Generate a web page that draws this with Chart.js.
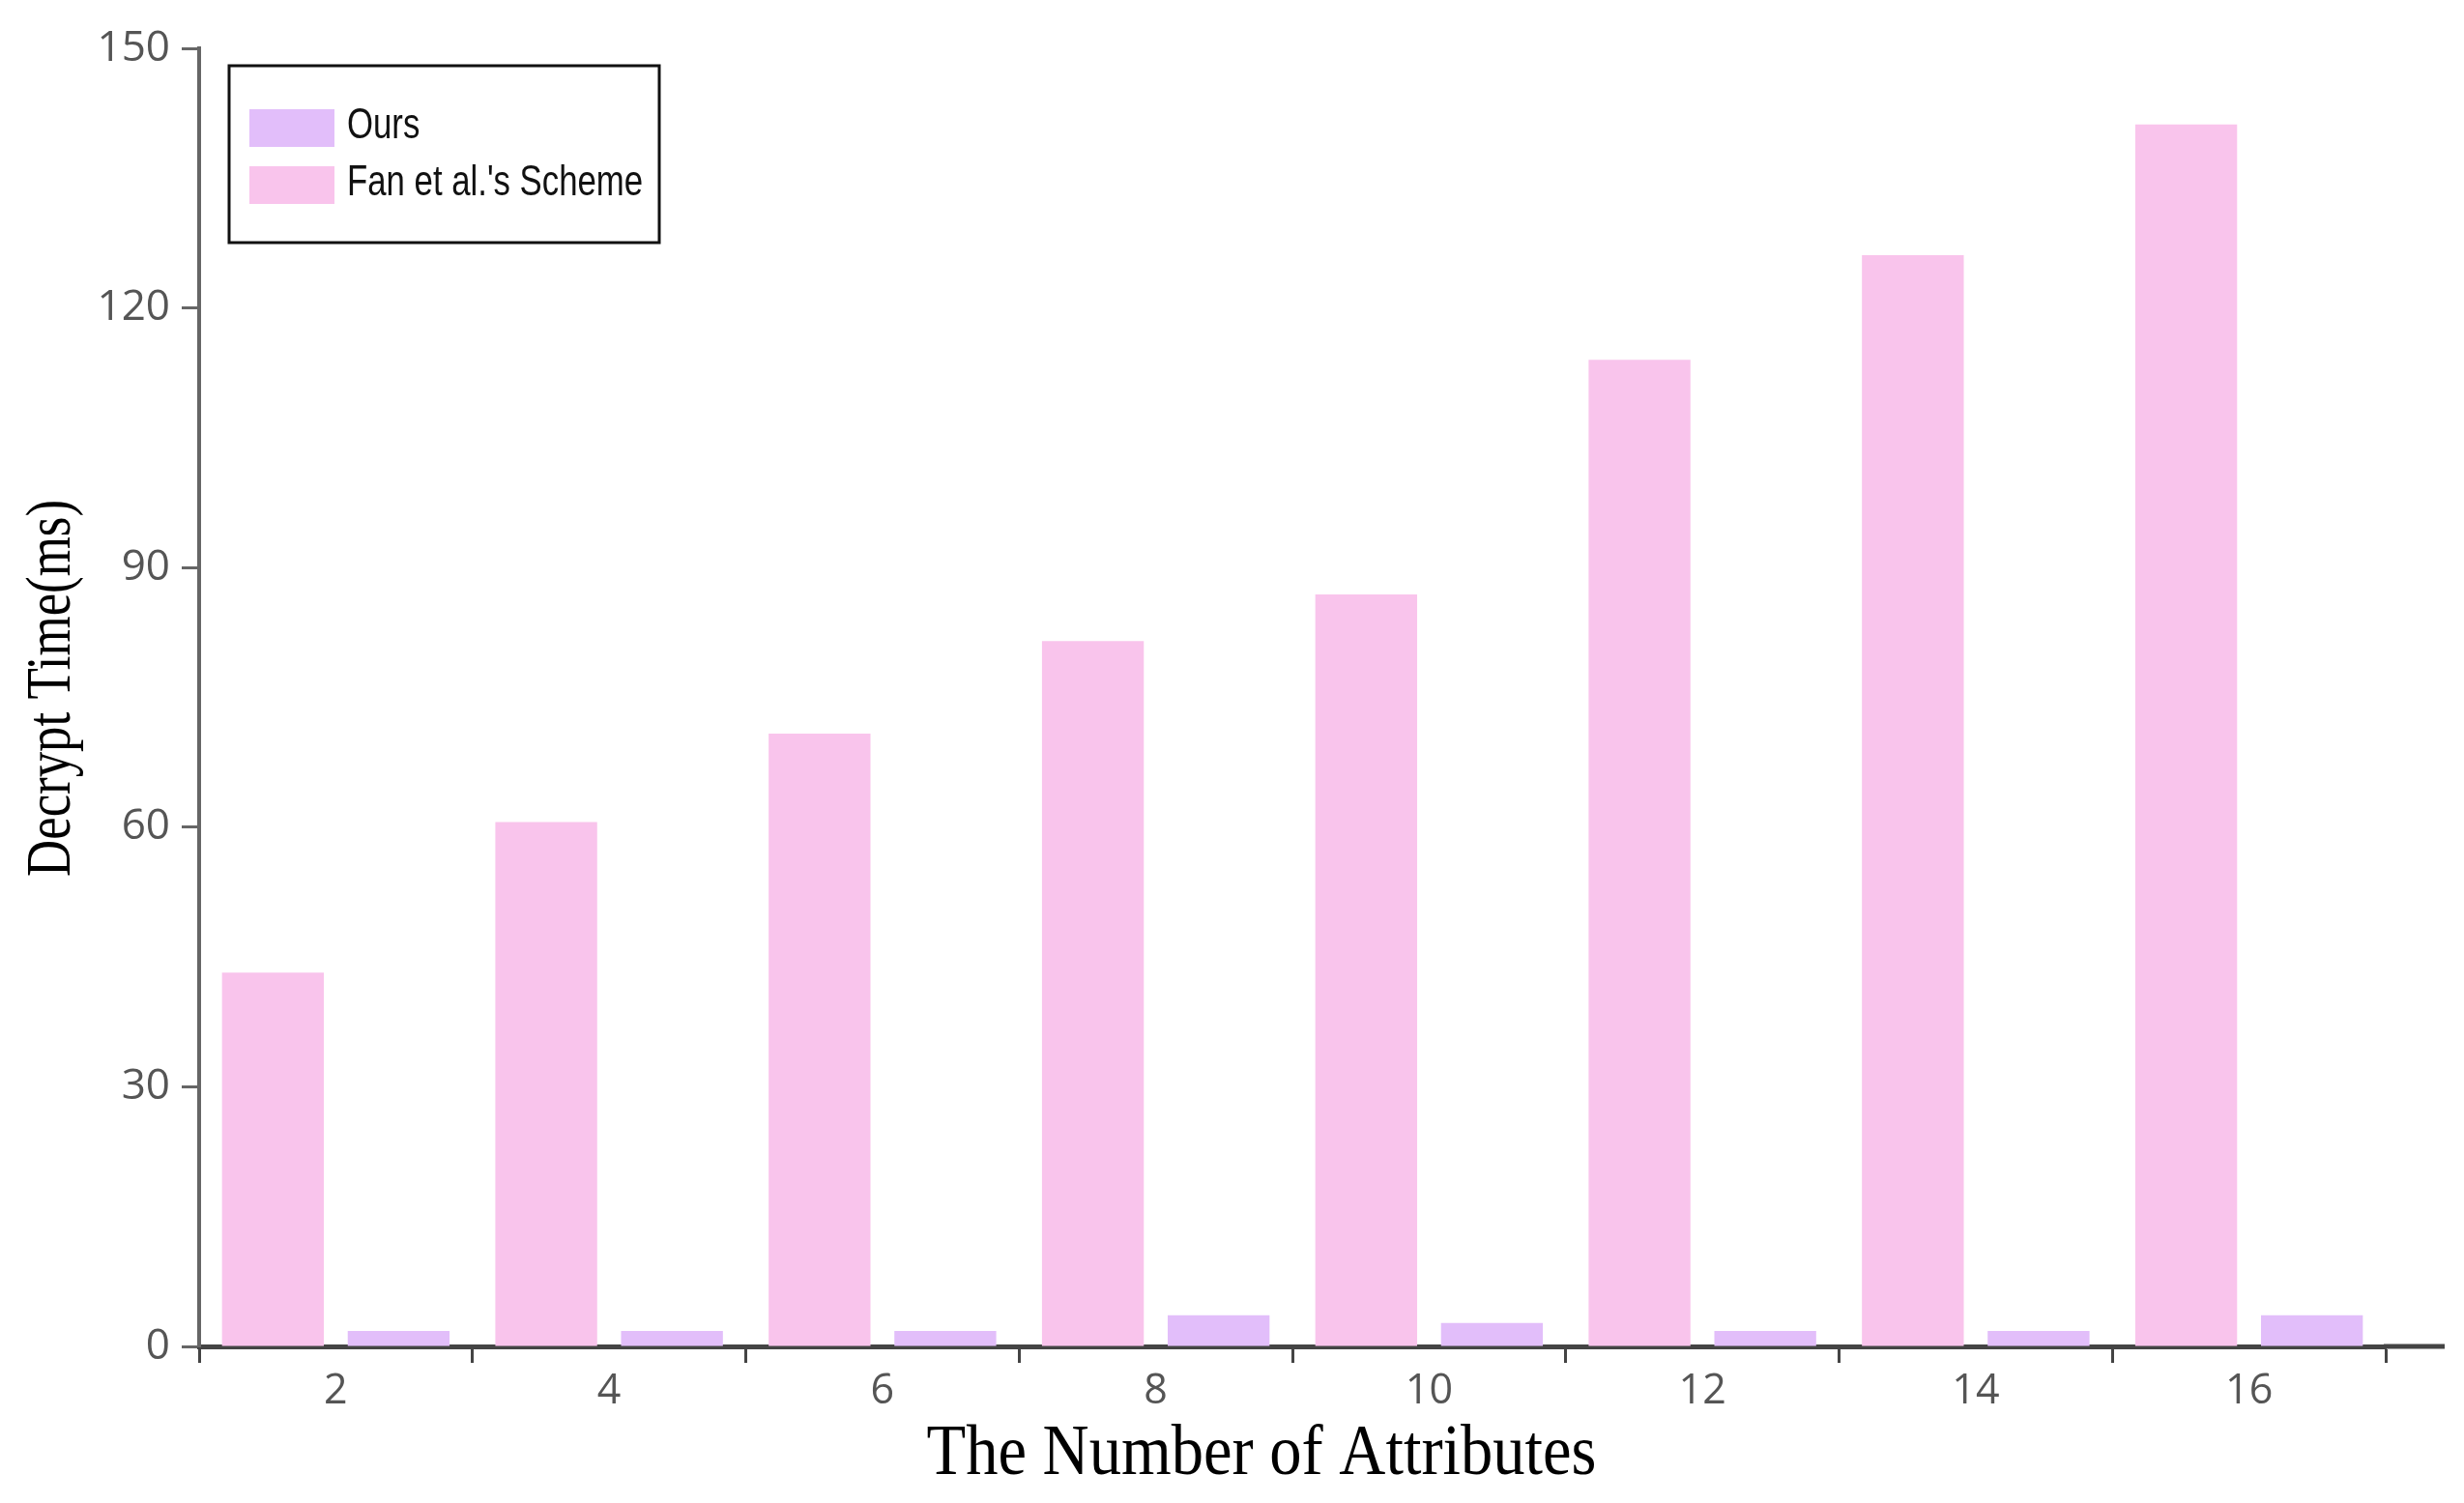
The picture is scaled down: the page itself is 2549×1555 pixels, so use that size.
<!DOCTYPE html>
<html><head><meta charset="utf-8">
<script src="https://cdn.jsdelivr.net/npm/chart.js@4.4.1/dist/chart.umd.min.js"></script>
<style>html,body{margin:0;padding:0;background:#fff;} #wrap{width:2549px;height:1555px;position:relative;background:#fff;}</style>
</head><body><div id="wrap"><canvas id="c"></canvas></div>
<script>
const categories = ['2', '4', '6', '8', '10', '12', '14', '16'];
const fanValues = [43.2, 60.6, 70.8, 81.5, 86.9, 114.0, 126.1, 141.2];
const oursValues = [1.8, 1.8, 1.8, 3.6, 2.7, 1.8, 1.8, 3.6];
const yTicks = [0, 30, 60, 90, 120, 150];
const fanLabel = "Fan et al.'s Scheme";
const oursLabel = 'Ours';
const xTitle = 'The Number of Attributes';
const yTitle = 'Decrypt Time(ms)';
const fanColor = '#F9C4EC';
const oursColor = '#E2BEFA';

const decor = {
  id: 'decor',
  afterDraw(chart) {
    const ctx = chart.ctx, a = chart.chartArea;
    const ys = chart.scales.y;
    ctx.save();
    // x axis line extension beyond last category
    const y0 = ys.getPixelForValue(0);
    ctx.strokeStyle = '#444'; ctx.lineWidth = 5;
    ctx.beginPath(); ctx.moveTo(a.right - 2, y0); ctx.lineTo(a.right + 61, y0); ctx.stroke();

    // x title (condensed serif)
    ctx.fillStyle = '#000';
    ctx.font = '74px "Liberation Serif", "Times New Roman", serif';
    ctx.textAlign = 'center'; ctx.textBaseline = 'alphabetic';
    let tw = ctx.measureText(xTitle).width;
    ctx.save(); ctx.translate(1305, 1525); ctx.scale(693 / tw, 1); ctx.fillText(xTitle, 0, 0); ctx.restore();

    // y title (rotated, condensed serif)
    ctx.font = '66px "Liberation Serif", "Times New Roman", serif';
    tw = ctx.measureText(yTitle).width;
    ctx.save(); ctx.translate(55, 712); ctx.rotate(-Math.PI / 2); ctx.scale(390 / tw, 1);
    ctx.textBaseline = 'middle'; ctx.fillText(yTitle, 0, 0); ctx.restore();

    // legend box
    const lx = a.left + 31, ly = 68;
    ctx.strokeStyle = '#111'; ctx.lineWidth = 3;
    ctx.strokeRect(lx, ly, 445, 183);
    const items = chart.data.datasets.slice().reverse();
    ctx.font = '44px "Liberation Sans", Arial, sans-serif';
    ctx.textAlign = 'left'; ctx.textBaseline = 'middle';
    items.forEach((ds, i) => {
      const sy = ly + 45 + i * 59;
      ctx.fillStyle = ds.backgroundColor;
      ctx.fillRect(lx + 21, sy, 88, 39);
      ctx.fillStyle = '#111';
      ctx.save(); ctx.translate(lx + 122, sy + 18); ctx.scale(0.79, 1); ctx.fillText(ds.label, 0, 0); ctx.restore();
    });
    ctx.restore();
  }
};

new Chart(document.getElementById('c'), {
  type: 'bar',
  data: {
    labels: categories,
    datasets: [
      { label: fanLabel, data: fanValues, backgroundColor: fanColor, borderWidth: 0 },
      { label: oursLabel, data: oursValues, backgroundColor: oursColor, borderWidth: 0 }
    ]
  },
  options: {
    responsive: true, maintainAspectRatio: false, devicePixelRatio: 1, animation: false,
    categoryPercentage: 0.92, barPercentage: 0.81,
    layout: { padding: { left: 0, top: 50, right: 81, bottom: 0 } },
    plugins: { legend: { display: false }, tooltip: { enabled: false } },
    scales: {
      x: {
        type: 'category', offset: true, z: 1,
        grid: { offset: true, drawOnChartArea: false, drawTicks: true, tickLength: 17, tickWidth: 3, tickColor: '#444' },
        border: { display: true, color: '#444', width: 5 },
        ticks: { font: { family: '"Open Sans", sans-serif', size: 43 }, color: '#555', padding: 4, maxRotation: 0 },
        afterFit(s) { s.height = 162; }
      },
      y: {
        min: 0, max: 150,
        afterBuildTicks(s) { s.ticks = yTicks.map(v => ({ value: v })); },
        grid: { drawOnChartArea: false, drawTicks: true, tickLength: 18, tickWidth: 3, tickColor: '#666' },
        border: { display: true, color: '#666', width: 4 },
        ticks: { font: { family: '"Open Sans", sans-serif', size: 44 }, color: '#555', padding: 12 },
        afterFit(s) { s.width = 206; }
      }
    }
  },
  plugins: [decor]
});
</script>
</body></html>
